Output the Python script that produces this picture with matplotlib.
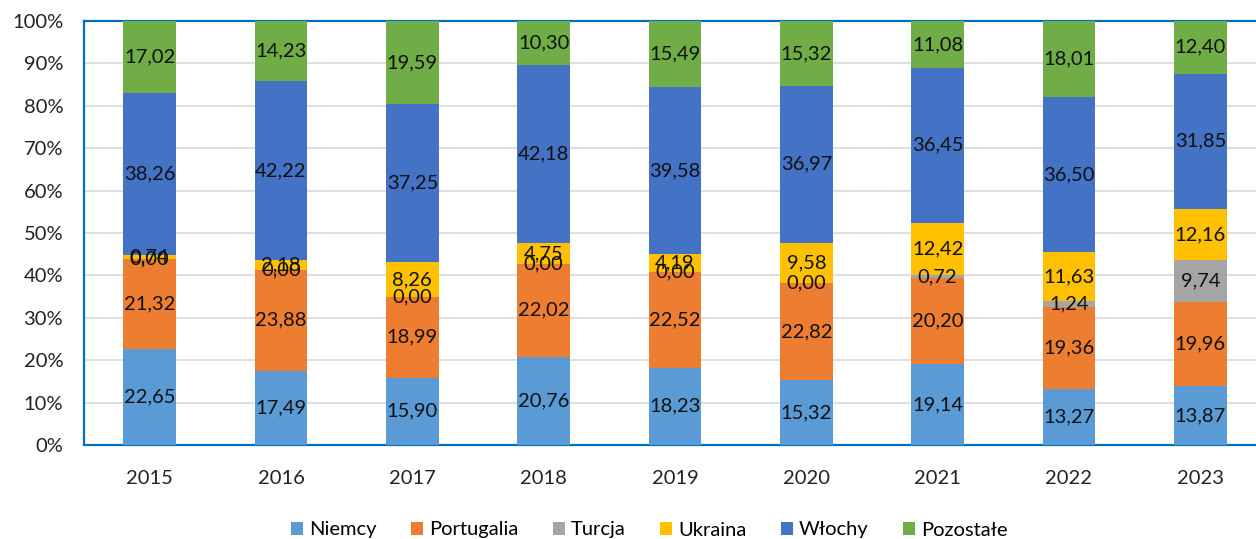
import matplotlib
matplotlib.use("Agg")
import matplotlib.pyplot as plt
import numpy as np
from matplotlib.ticker import PercentFormatter

plt.rcParams["font.family"] = ["Lato", "DejaVu Sans"]

years = ["2015", "2016", "2017", "2018", "2019", "2020", "2021", "2022", "2023"]
series_names = ["Niemcy", "Portugalia", "Turcja", "Ukraina", "Włochy", "Pozostałe"]
niemcy = [22.65, 17.49, 15.90, 20.76, 18.23, 15.32, 19.14, 13.27, 13.87]
portugalia = [21.32, 23.88, 18.99, 22.02, 22.52, 22.82, 20.20, 19.36, 19.96]
turcja = [0.00, 0.00, 0.00, 0.00, 0.00, 0.00, 0.72, 1.24, 9.74]
ukraina = [0.74, 2.18, 8.26, 4.75, 4.19, 9.58, 12.42, 11.63, 12.16]
wlochy = [38.26, 42.22, 37.25, 42.18, 39.58, 36.97, 36.45, 36.50, 31.85]
pozostale = [17.02, 14.23, 19.59, 10.30, 15.49, 15.32, 11.08, 18.01, 12.40]

colors = ["#5B9BD5", "#ED7D31", "#A5A5A5", "#FFC000", "#4472C4", "#70AD47"]

W, H = 1256, 539
fig = plt.figure(figsize=(W / 100, H / 100), dpi=100)
# axes runs slightly past the right edge of the image, like the source
left, right, top, bottom = 84, 1266, 21, 445
ax = fig.add_axes([left / W, 1 - bottom / H, (right - left) / W, (bottom - top) / H])

x = np.arange(len(years))
data = [niemcy, portugalia, turcja, ukraina, wlochy, pozostale]
totals = np.sum(data, axis=0)
base = np.zeros(len(years))
for name, vals, col in zip(series_names, data, colors):
    share = np.array(vals) / totals * 100
    ax.bar(x, share, 0.4, bottom=base, color=col, label=name, zorder=3)
    for xi, b, s, v in zip(x, base, share, vals):
        ax.text(xi, b + s / 2, f"{v:.2f}".replace(".", ","), ha="center", va="center",
                fontsize=14.5, color="#111111", zorder=4)
    base += share

ax.set_xlim(-0.5, len(years) - 0.5)
ax.set_ylim(0, 100)
ax.set_xticks(x)
ax.set_xticklabels(years)
ax.set_yticks(np.arange(0, 101, 10))
ax.yaxis.set_major_formatter(PercentFormatter(decimals=0))
ax.tick_params(length=0, labelsize=14.5, colors="#222222")
ax.tick_params(axis="x", pad=18)
ax.tick_params(axis="y", pad=15)
ax.grid(axis="y", color="#D9D9D9", lw=1.2, zorder=0)

for side in ["left", "bottom", "top", "right"]:
    ax.spines[side].set_color("#0070C0")
    ax.spines[side].set_linewidth(1.6)

fig.legend(loc="center", bbox_to_anchor=(0.517, 1 - 530 / H), ncol=6, frameon=False,
           fontsize=14.5, handlelength=0.6, handleheight=0.6, handletextpad=0.3,
           columnspacing=1.7)

fig.savefig("out.png", dpi=100)
